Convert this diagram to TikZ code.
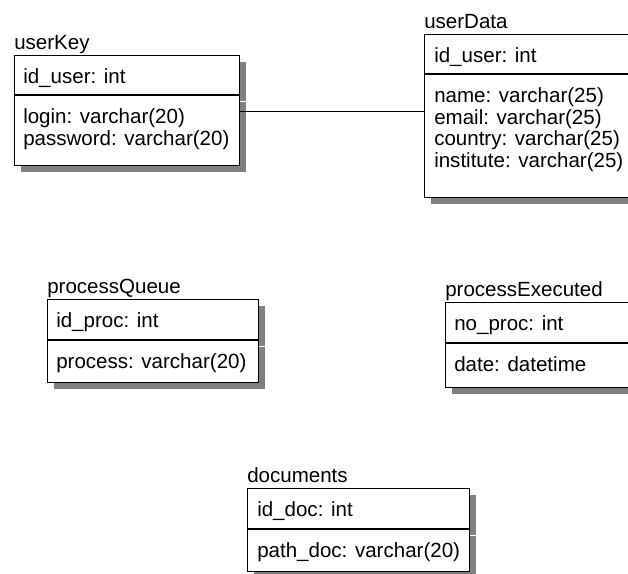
\documentclass[tikz,border=0pt]{standalone}
\usepackage{fontspec}
\setmainfont{Liberation Sans}
\usetikzlibrary{calc,positioning,shadows}

\begin{document}
\begin{tikzpicture}[x=0.75pt,y=-0.75pt,
 font=\fontsize{15.4pt}{18pt}\selectfont,
 tabbox/.style={draw,line width=0.8pt,fill=white,inner sep=0pt,anchor=north west,
  drop shadow={shadow xshift=4.5pt,shadow yshift=-4.5pt,fill=black!50,opacity=1}},
 tabtitle/.style={anchor=base west,inner sep=0pt,yshift=4.1pt},
 field/.style={anchor=base west,inner sep=0pt}]
\useasboundingbox (0,0) rectangle (628,574);
\clip (0,0) rectangle (628,574);
% userKey
\node[tabbox,minimum width=168.75pt,minimum height=29.25pt] (ukeyhead) at (14,55) {};
\node[tabbox,minimum width=168.75pt,minimum height=52.5pt] (ukeybody) at (ukeyhead.south west) {};
\node[tabtitle] (ukeytitle) at (ukeyhead.north west) {userKey};
\node[field] (ukeyid) at ($(ukeyhead.north west)+(9,28.5)$) {id\_user: int};
\foreach \f [count=\i] in {login: varchar(20),password: varchar(20)}
  \node[field] (ukeyf\i) at ($(ukeybody.north west)+(9,{6.8+21.7*\i})$) {\f};
% userData
\node[tabbox,minimum width=159pt,minimum height=29.25pt] (udatahead) at (424,34) {};
\node[tabbox,minimum width=159pt,minimum height=92.25pt] (udatabody) at (udatahead.south west) {};
\node[tabtitle] (udatatitle) at (udatahead.north west) {userData};
\node[field] (udataid) at ($(udatahead.north west)+(10,28.5)$) {id\_user: int};
\foreach \f [count=\i] in {name: varchar(25),email: varchar(25),country: varchar(25),institute: varchar(25)}
  \node[field] (udataf\i) at ($(udatabody.north west)+(10,{6.8+21.7*\i})$) {\f};
% link
\coordinate (link) at ($(ukeybody.north east)+(0,16)$);
\draw[line width=0.8pt] (link) -- (link -| udatabody.west);
% processQueue
\node[tabbox,minimum width=158.25pt,minimum height=30pt] (pqhead) at (47,299) {};
\node[tabbox,minimum width=158.25pt,minimum height=31.5pt] (pqbody) at (pqhead.south west) {};
\node[tabtitle] (pqtitle) at (pqhead.north west) {processQueue};
\node[field] (pqid) at ($(pqhead.north west)+(9,28.5)$) {id\_proc: int};
\node[field] (pqf1) at ($(pqbody.north west)+(9,28.5)$) {process: varchar(20)};
% processExecuted
\node[tabbox,minimum width=143.25pt,minimum height=30pt] (pxhead) at (445,302) {};
\node[tabbox,minimum width=143.25pt,minimum height=33pt] (pxbody) at (pxhead.south west) {};
\node[tabtitle] (pxtitle) at (pxhead.north west) {processExecuted};
\node[field] (pxid) at ($(pxhead.north west)+(9,28.5)$) {no\_proc: int};
\node[field] (pxf1) at ($(pxbody.north west)+(9,28.5)$) {date: datetime};
% documents
\node[tabbox,minimum width=166.5pt,minimum height=30pt] (dochead) at (247,488) {};
\node[tabbox,minimum width=166.5pt,minimum height=31.5pt] (docbody) at (dochead.south west) {};
\node[tabtitle] (doctitle) at (dochead.north west) {documents};
\node[field] (docid) at ($(dochead.north west)+(10,28.5)$) {id\_doc: int};
\node[field] (docf1) at ($(docbody.north west)+(10,28.5)$) {path\_doc: varchar(20)};
\end{tikzpicture}
\end{document}
